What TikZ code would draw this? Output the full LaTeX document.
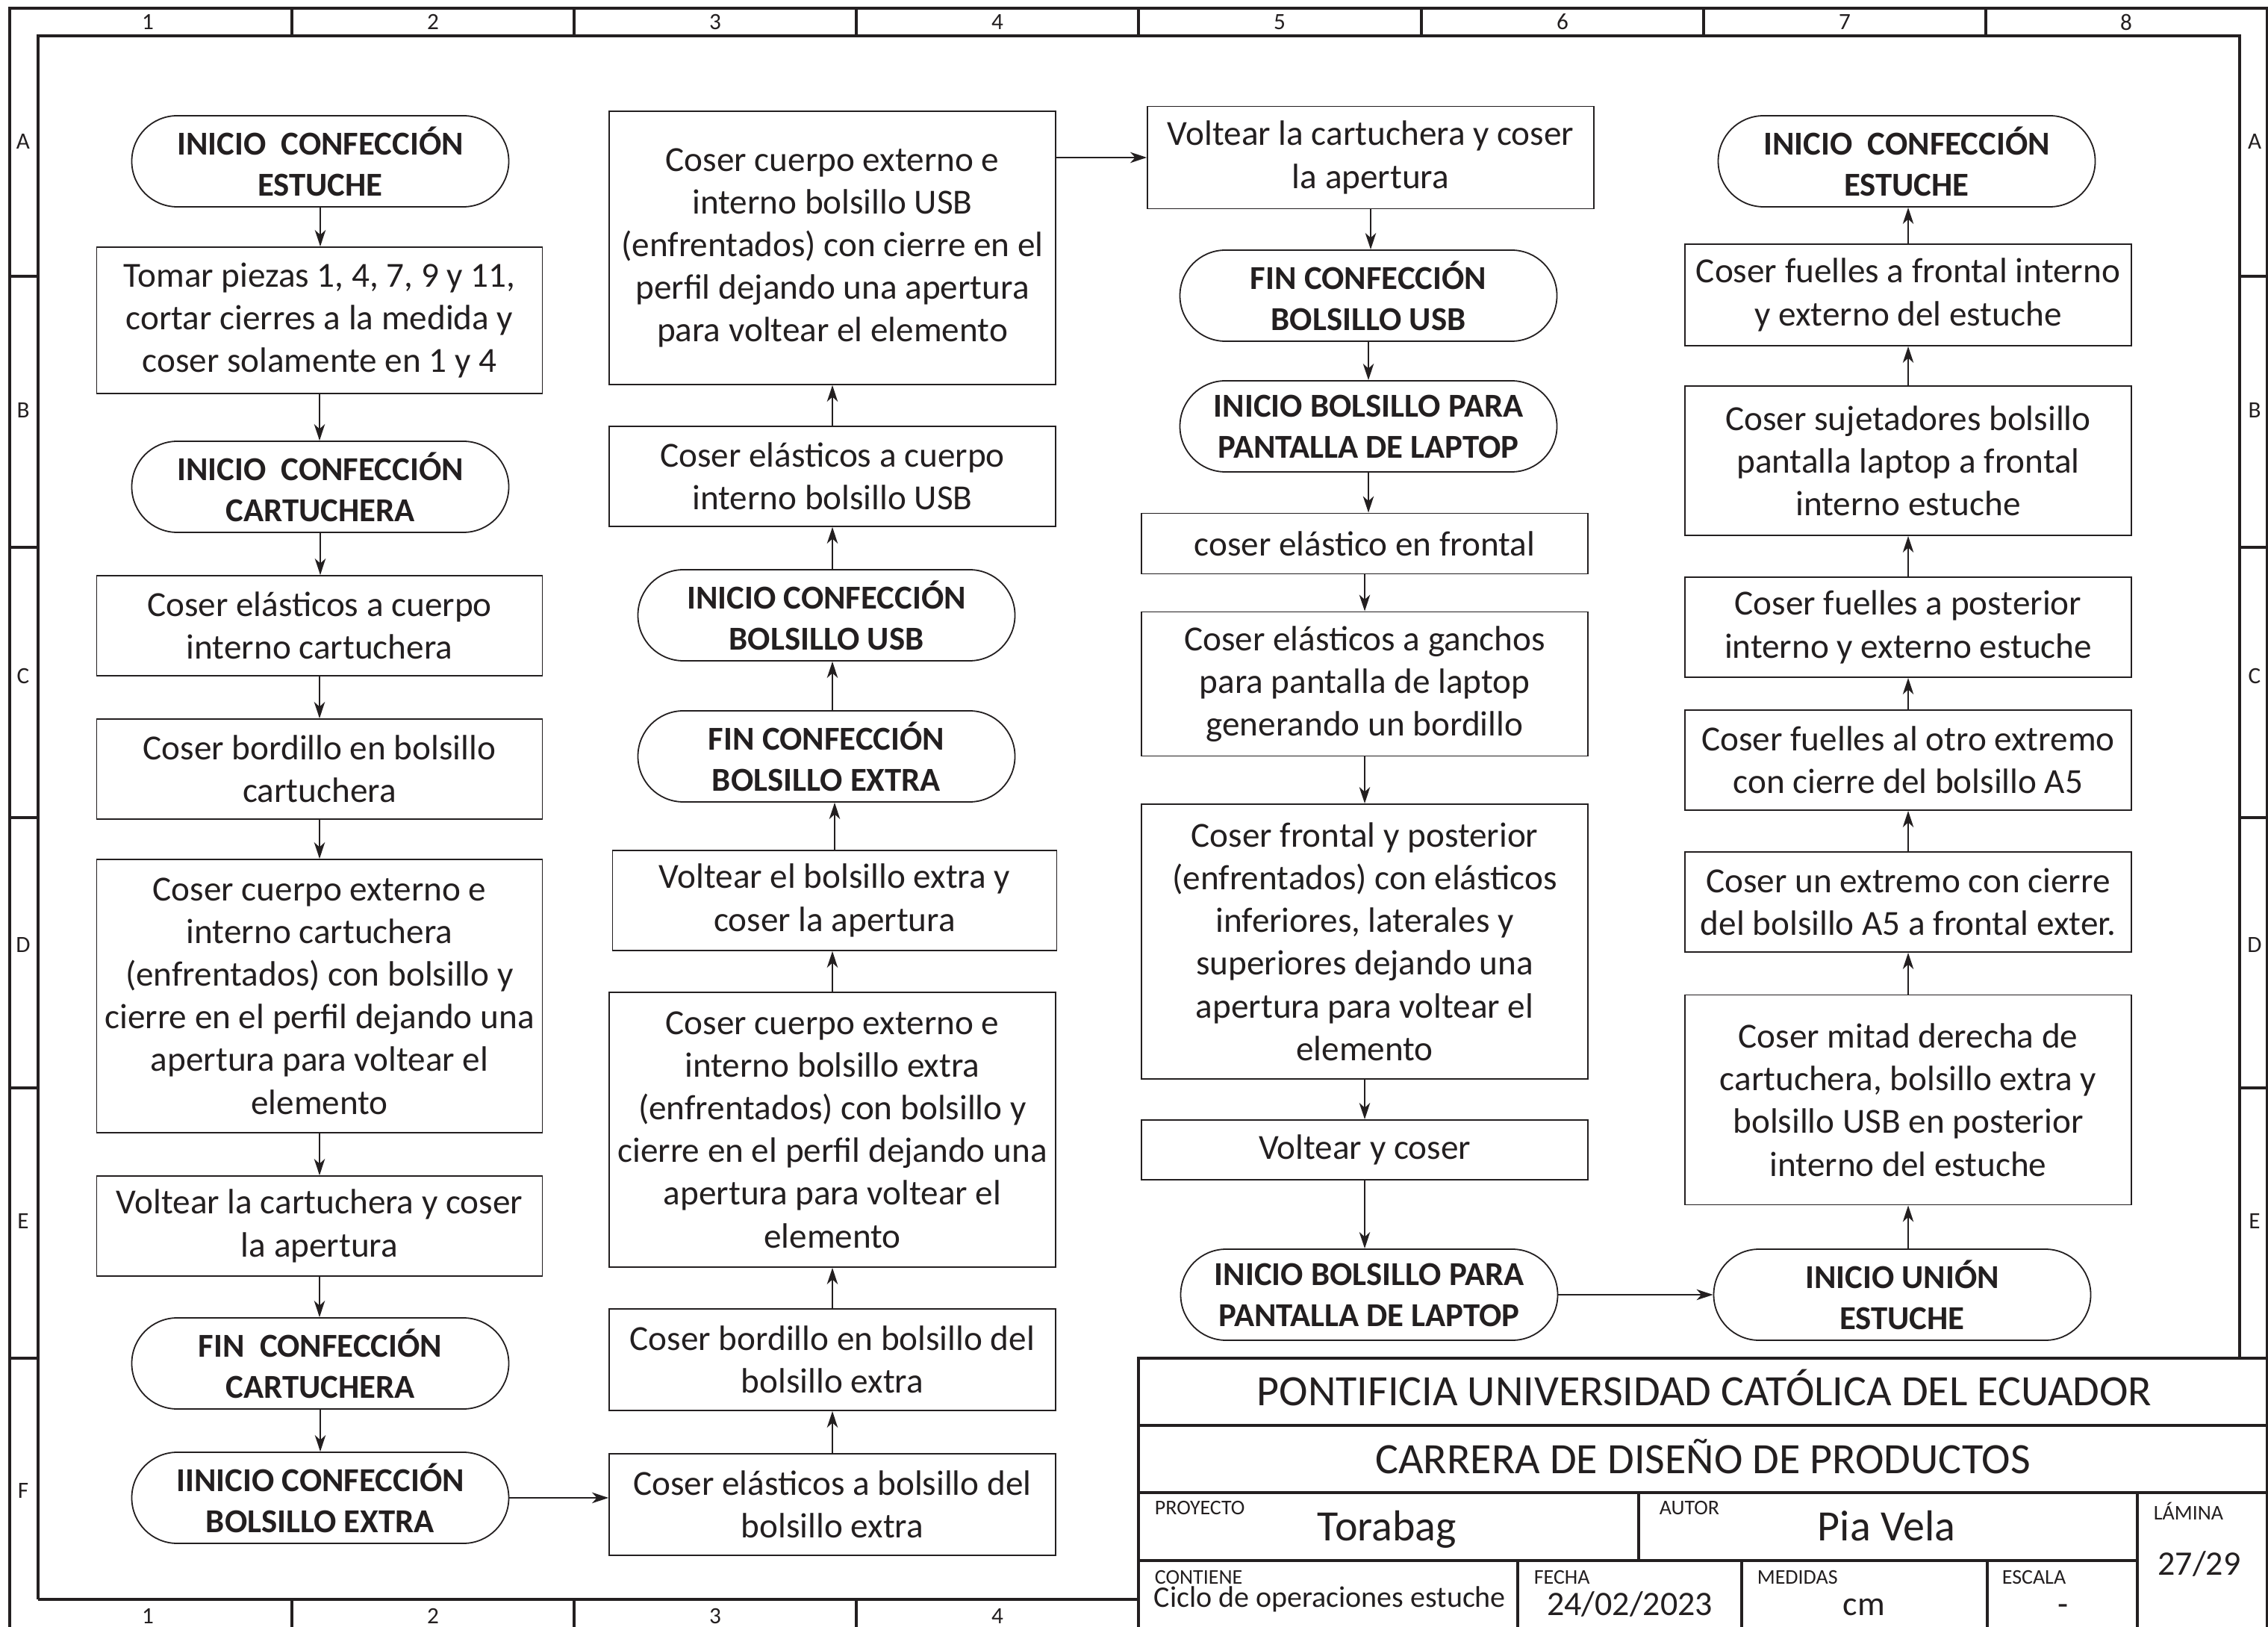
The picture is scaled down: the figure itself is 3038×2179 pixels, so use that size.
\documentclass[tikz,border=0pt]{standalone}
\usepackage{fontspec}
\setmainfont{Carlito}
\usetikzlibrary{arrows.meta}
\definecolor{ink}{RGB}{35,31,32}
\tikzset{
  proc/.style 2 args={draw=ink, line width=0.45pt, rectangle, inner sep=0pt,
    minimum width=#1*0.25pt, minimum height=#2*0.25pt, align=center, text=ink,
    font=\fontsize{11.8}{14.3}\selectfont},
  term/.style={draw=ink, line width=0.45pt, rectangle, rounded corners=15.2pt, inner sep=0pt,
    minimum width=505*0.25pt, minimum height=122*0.25pt, align=center, text=ink,
    font=\fontsize{11.2}{13.75}\selectfont\bfseries},
  arr/.style={draw=ink, line width=0.5pt, -{Stealth[length=5.5pt,width=3.6pt,inset=1.6pt]}},
  frm/.style={draw=ink, line width=0.8pt},
  lbl/.style={font=\fontsize{7.8}{9}\selectfont, inner sep=0pt, text=ink},
  small/.style={font=\fontsize{7}{8}\selectfont, inner sep=0pt, text=ink, anchor=base west},
  big/.style={font=\fontsize{14.5}{16}\selectfont, inner sep=0pt, text=ink, anchor=base},
  mid/.style={font=\fontsize{11.5}{13}\selectfont, inner sep=0pt, text=ink, anchor=base},
}
\begin{document}
\begin{tikzpicture}[x=0.25pt,y=-0.25pt]
\useasboundingbox (0,0) rectangle (3038,2179);
% ---------- frame ----------
\draw[frm] (13,2230) -- (13,11) -- (3037,11) -- (3037,2230);
\draw[frm] (51,2142) -- (51,48) -- (3000,48) -- (3000,1819);
\draw[frm] (51,2142) -- (1525,2142);
\foreach \xx in {391,769,1147,1525,1904,2282,2660} \draw[frm] (\xx,11) -- (\xx,48);
\foreach \xx in {391,769,1147} \draw[frm] (\xx,2142) -- (\xx,2230);
\foreach \yy in {370,733,1095,1457,1819} \draw[frm] (13,\yy) -- (51,\yy);
\foreach \yy in {370,733,1095,1457} \draw[frm] (3000,\yy) -- (3037,\yy);
\foreach \n/\xx in {1/198,2/580,3/958,4/1336,5/1714,6/2093,7/2471,8/2848}
  \node[lbl] (top\n) at (\xx,29.5) {\n};
\foreach \n/\xx in {1/198,2/580,3/958,4/1336}
  \node[lbl] (bot\n) at (\xx,2164) {\n};
\foreach \l/\yy in {A/190,B/550,C/905,D/1265,E/1635,F/1996}
  \node[lbl] (left\l) at (31,\yy) {\l};
\foreach \l/\yy in {A/190,B/550,C/905,D/1265,E/1635}
  \node[lbl] (right\l) at (3020,\yy) {\l};
% ---------- column 1 ----------
\node[term] (T1) at (429,216) {INICIO\ \ CONFECCIÓN\\ESTUCHE};
\node[proc={597}{196}] (B1) at (428,429) {Tomar piezas 1, 4, 7, 9 y 11,\\cortar cierres a la medida y\\coser solamente en 1 y 4};
\node[term] (T2) at (429,652) {INICIO\ \ CONFECCIÓN\\CARTUCHERA};
\node[proc={597}{134}] (B2) at (428,838) {Coser elásticos a cuerpo\\interno cartuchera};
\node[proc={597}{134}] (B3) at (428,1030) {Coser bordillo en bolsillo\\cartuchera};
\node[proc={597}{366}] (B4) at (428,1334) {Coser cuerpo externo e\\interno cartuchera\\(enfrentados) con bolsillo y\\cierre en el perfil dejando una\\apertura para voltear el\\elemento};
\node[proc={597}{134}] (B5) at (428,1642) {Voltear la cartuchera y coser\\la apertura};
\node[term] (T3) at (429,1826) {FIN\ \ CONFECCIÓN\\CARTUCHERA};
\node[term] (T4) at (429,2006) {IINICIO CONFECCIÓN\\BOLSILLO EXTRA};
% ---------- column 2 ----------
\node[proc={598}{366}] (C1) at (1115,332) {Coser cuerpo externo e\\interno bolsillo USB\\(enfrentados) con cierre en el\\perfil dejando una apertura\\para voltear el elemento};
\node[proc={598}{134}] (C2) at (1115,638) {Coser elásticos a cuerpo\\interno bolsillo USB};
\node[term] (C3) at (1107,824) {INICIO CONFECCIÓN\\BOLSILLO USB};
\node[term] (C4) at (1107,1013) {FIN CONFECCIÓN\\BOLSILLO EXTRA};
\node[proc={595}{134}] (C5) at (1118,1206) {Voltear el bolsillo extra y\\coser la apertura};
\node[proc={598}{368}] (C6) at (1115,1513) {Coser cuerpo externo e\\interno bolsillo extra\\(enfrentados) con bolsillo y\\cierre en el perfil dejando una\\apertura para voltear el\\elemento};
\node[proc={598}{136}] (C7) at (1115,1821) {Coser bordillo en bolsillo del\\bolsillo extra};
\node[proc={598}{136}] (C8) at (1115,2015) {Coser elásticos a bolsillo del\\bolsillo extra};
% ---------- column 3 ----------
\node[proc={598}{137}] (D1) at (1836,211) {Voltear la cartuchera y coser\\la apertura};
\node[term] (D2) at (1833,396) {FIN CONFECCIÓN\\BOLSILLO USB};
\node[term] (D3) at (1833,571) {INICIO BOLSILLO PARA\\PANTALLA DE LAPTOP};
\node[proc={598}{81}] (D4) at (1828,728) {coser elástico en frontal};
\node[proc={598}{193}] (D5) at (1828,916) {Coser elásticos a ganchos\\para pantalla de laptop\\generando un bordillo};
\node[proc={598}{368}] (D6) at (1828,1261) {Coser frontal y posterior\\(enfrentados) con elásticos\\inferiores, laterales y\\superiores dejando una\\apertura para voltear el\\elemento};
\node[proc={598}{80}] (D7) at (1828,1540) {Voltear y coser};
\node[term] (D8) at (1834,1734) {INICIO BOLSILLO PARA\\PANTALLA DE LAPTOP};
% ---------- column 4 ----------
\node[term] (E1) at (2554,216) {INICIO\ \ CONFECCIÓN\\ESTUCHE};
\node[proc={598}{136}] (E2) at (2556,395) {Coser fuelles a frontal interno\\y externo del estuche};
\node[proc={598}{200}] (E3) at (2556,617) {Coser sujetadores bolsillo\\pantalla laptop a frontal\\interno estuche};
\node[proc={598}{134}] (E4) at (2556,840) {Coser fuelles a posterior\\interno y externo estuche};
\node[proc={598}{134}] (E5) at (2556,1018) {Coser fuelles al otro extremo\\con cierre del bolsillo A5};
\node[proc={598}{134}] (E6) at (2556,1208) {Coser un extremo con cierre\\del bolsillo A5 a frontal exter.};
\node[proc={598}{281}] (E7) at (2556,1473) {Coser mitad derecha de\\cartuchera, bolsillo extra y\\bolsillo USB en posterior\\interno del estuche};
\node[term] (E8) at (2548,1734) {INICIO UNIÓN\\ESTUCHE};
% ---------- connectors ----------
\foreach \a/\b in {T1/B1,B1/T2,T2/B2,B2/B3,B3/B4,B4/B5,B5/T3,T3/T4,D1/D2,D2/D3,D3/D4,D4/D5,D5/D6,D6/D7,D7/D8}
  \draw[arr] (\a.south) -- (\a.south |- \b.north);
\foreach \a/\b in {C8/C7,C7/C6,C6/C5,C5/C4,C2/C1,E7/E6,E6/E5,E5/E4,E4/E3,E3/E2,E2/E1}
  \draw[arr] (\a.north) -- (\a.north |- \b.south);
\draw[arr] (C4.north -| C2.south) -- (C2.south |- C3.south);
\draw[arr] (C3.north -| C2.south) -- (C2.south);
\draw[arr] (T4.east) -- (T4.east -| C8.west);
\draw[arr] (C1.east |- D1.west) -- (D1.west);
\draw[arr] (D8.east) -- (E8.west);
\draw[arr] (E7.south |- E8.north) -- (E7.south);
% ---------- title block ----------
\fill[white] (1525,1819) rectangle (3038,2230);
\draw[frm] (1525,2230) -- (1525,1819) -- (3038,1819);
\draw[frm] (1525,1909) -- (3038,1909);
\draw[frm] (1525,1999) -- (3038,1999);
\draw[frm] (1525,2090) -- (2863,2090);
\draw[frm] (2195,1999) -- (2195,2090);
\draw[frm] (2863,1999) -- (2863,2230);
\draw[frm] (2033,2090) -- (2033,2230);
\draw[frm] (2333,2090) -- (2333,2230);
\draw[frm] (2662,2090) -- (2662,2230);
\draw[frm] (3037,1819) -- (3037,2230);
\node[big] (univ) at (2283,1882) {PONTIFICIA UNIVERSIDAD CATÓLICA DEL ECUADOR};
\node[big] (carr) at (2281,1973) {CARRERA DE DISEÑO DE PRODUCTOS};
\node[small] (lproy) at (1546,2028) {PROYECTO};
\node[big] (proy) at (1858,2063) {Torabag};
\node[small] (laut) at (2222,2028) {AUTOR};
\node[big] (aut) at (2527,2063) {Pia Vela};
\node[small] (llam) at (2884,2035) {LÁMINA};
\node[mid] (lam) at (2946,2109) {27/29};
\node[small] (lcont) at (1546,2121) {CONTIENE};
\node[font=\fontsize{10}{12}\selectfont, inner sep=0pt, text=ink, anchor=base west] (cont) at (1545,2152) {Ciclo de operaciones estuche};
\node[small] (lfech) at (2054,2121) {FECHA};
\node[mid] (fech) at (2183,2163) {24/02/2023};
\node[small] (lmed) at (2353,2121) {MEDIDAS};
\node[mid] (med) at (2497,2163) {cm};
\node[small] (lesc) at (2681,2121) {ESCALA};
\node[mid] (esc) at (2763,2163) {-};
\end{tikzpicture}
\end{document}
